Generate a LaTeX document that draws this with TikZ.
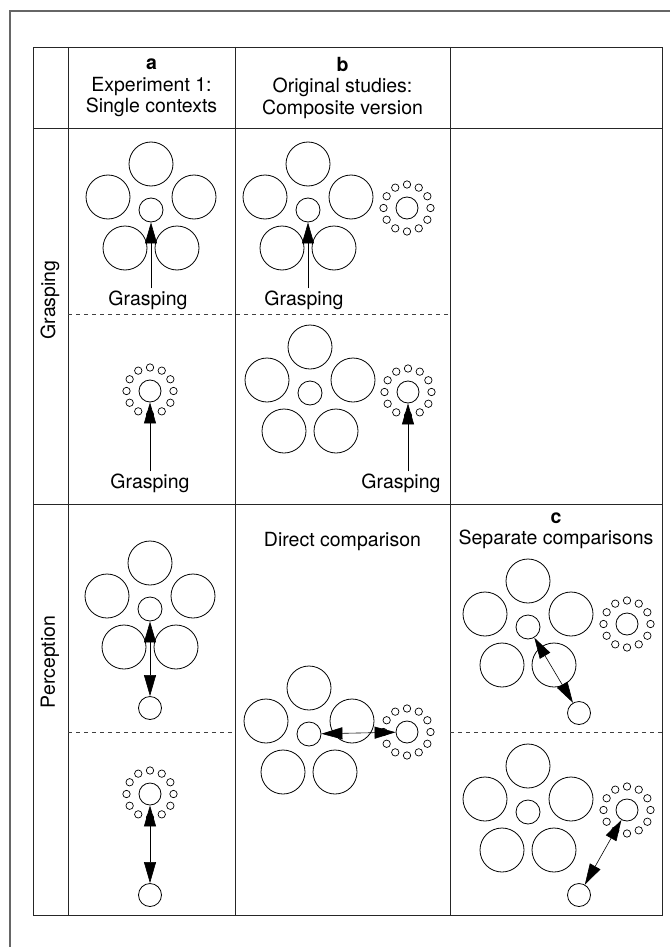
\documentclass[tikz,border=0pt]{standalone}
\usepackage{fontspec}
\setmainfont{TeX Gyre Heros}
\usetikzlibrary{arrows.meta}
\begin{document}
\begin{tikzpicture}[x=1pt,y=-1pt,
  bigc/.style={draw,circle,minimum size=44pt,inner sep=0pt,line width=0.8pt},
  midc/.style={draw,circle,minimum size=24pt,inner sep=0pt,line width=0.8pt},
  lonec/.style={draw,circle,minimum size=23pt,inner sep=0pt,line width=0.8pt},
  ringc/.style={draw,circle,minimum size=22pt,inner sep=0pt,line width=0.8pt},
  dotc/.style={line width=0.7pt},
  txt/.style={font=\fontsize{19.5}{21.5}\selectfont, inner sep=2pt, align=center},
  gridl/.style={line width=0.9pt, draw=black!85},
  dashl/.style={line width=0.8pt, draw=black!75, dash pattern=on 4pt off 4pt},
  arr/.style={line width=0.6pt, -{Triangle[length=21pt,width=12pt]}},
  darr/.style={line width=0.6pt, {Triangle[length=21pt,width=12pt]}-{Triangle[length=21pt,width=12pt]}},
  flower/.pic={
    \node[bigc] (-t) at (0,-46) {};
    \node[bigc] (-l) at (-43,-13) {};
    \node[bigc] (-r) at (43,-13) {};
    \node[bigc] (-bl) at (-26,38) {};
    \node[bigc] (-br) at (26,38) {};
    \node[midc] (-c) at (0,0) {};
  },
  ring/.pic={
    \node[ringc] (-in) at (0,0) {};
    \foreach \a in {0,30,...,330} \draw[dotc] (\a:23.5) circle[radius=3.7pt];
  }
]
\useasboundingbox (0,0) rectangle (670,947);
\fill[white] (0,0) rectangle (670,947);

% outer frame
\draw[line width=1.4pt, draw=black!60] (10,947) -- (10,11) -- (670,11);

% table grid
\draw[gridl] (33,47) rectangle (662,915);
\draw[gridl] (33,128) -- (662,128);
\draw[gridl] (33,504) -- (662,504);
\draw[gridl] (68,47) -- (68,915);
\draw[gridl] (235,47) -- (235,915);
\draw[gridl] (450,47) -- (450,915);
\draw[dashl] (68,314) -- (450,314);
\draw[dashl] (68,732) -- (235,732);
\draw[dashl] (450,732) -- (662,732);

% headers
\node[txt] (ha) at (151.5,88) {\textbf{a}\\Experiment 1:\\Single contexts};
\node[txt] (hb) at (342.5,88) {\textbf{b}\\Original studies:\\Composite version};
\node[txt, rotate=90] (rg) at (50,300) {Grasping};
\node[txt, rotate=90] (rp) at (50,662) {Perception};

% Grasping, a, upper
\pic (ga) at (151,210) {flower};
\node[txt] (lga) at (148,300) {Grasping};
\draw[arr] (lga.north -| ga-c) -- (ga-c.south);

% Grasping, b, upper
\pic (gb) at (308,210) {flower};
\pic (gbr) at (407,208) {ring};
\node[txt] (lgb) at (304,300) {Grasping};
\draw[arr] (lgb.north -| gb-c) -- (gb-c.south);

% Grasping, a, lower
\pic (gar) at (150,391) {ring};
\node[txt] (lga2) at (150,483) {Grasping};
\draw[arr] (lga2.north -| gar-in) -- (gar-in.south);

% Grasping, b, lower
\pic (gb2) at (310,393) {flower};
\pic (gbr2) at (408,392) {ring};
\node[txt] (lgb2) at (401,483) {Grasping};
\draw[arr] (lgb2.north -| gbr2-in) -- (gbr2-in.south);

% Perception, a, upper
\pic (pa) at (150,609) {flower};
\node[lonec] (pal) at (150,708) {};
\draw[darr] (pa-c) -- (pal);

% Perception, a, lower
\pic (par) at (150,794) {ring};
\node[lonec] (pal2) at (150,895) {};
\draw[darr] (par-in) -- (pal2);

% Perception, b: direct comparison
\node[txt] (hd) at (342.5,542) {Direct comparison};
\pic (pb) at (309,734) {flower};
\pic (pbr) at (407,732) {ring};
\draw[darr] (pb-c) -- (pbr-in);

% Perception, c: separate comparisons
\node[txt] (hc) at (556,531) {\textbf{c}\\Separate comparisons};
\pic (pc) at (528,627) {flower};
\pic (pcr) at (627,624) {ring};
\node[lonec] (pcl) at (579,713) {};
\draw[darr] (pc-c) -- (pcl);

\pic (pc2) at (528,812) {flower};
\pic (pcr2) at (627,810) {ring};
\node[lonec] (pcl2) at (579,895) {};
\draw[darr] (pcr2-in) -- (pcl2);
\end{tikzpicture}
\end{document}
